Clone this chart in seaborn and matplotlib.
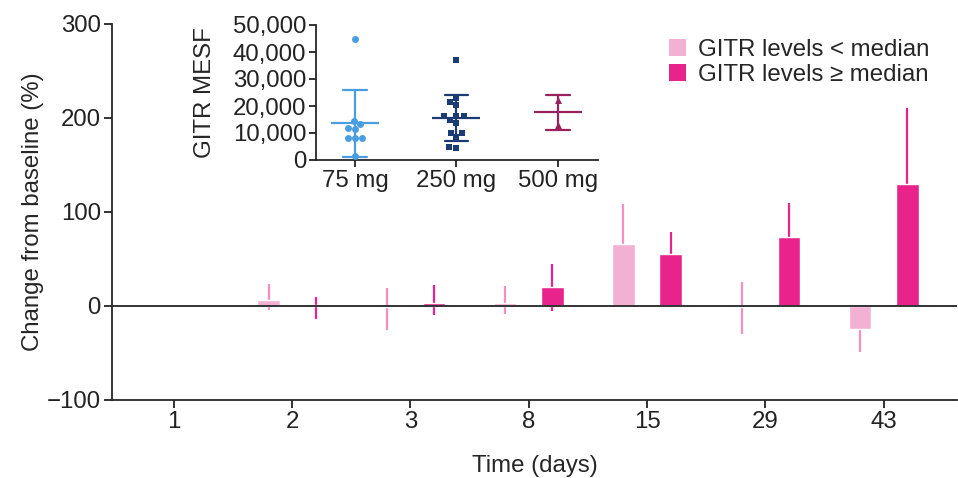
import numpy as np
import pandas as pd
import matplotlib
matplotlib.use("Agg")
import matplotlib.pyplot as plt
from matplotlib.patches import Patch
import seaborn as sns

# main chart: % change from baseline by day
days = ["1", "2", "3", "8", "15", "29", "43"]
low_mean = [np.nan, 6, -1, 3, 66, -1, -24.5]
low_lo = [np.nan, -4, -26, -8, 24, -30, -49]
low_hi = [np.nan, 23, 19, 21, 108, 26, 0]
high_mean = [np.nan, 1, 3, 20, 55, 73, 130]
high_lo = [np.nan, -14, -10, -5, 31, 36, 49]
high_hi = [np.nan, 10, 22, 45, 79, 110, 211]
groups = ["GITR levels < median", "GITR levels \u2265 median"]

# inset: GITR MESF per dose
doses = ["75 mg", "250 mg", "500 mg"]
mesf_75 = [45000, 13300, 14400, 11500, 11800, 8100, 8100, 8100, 1500]
mesf_250 = [37000, 23000, 21400, 20300, 16300, 16300, 16300, 13600, 14800,
            9900, 9900, 8400, 4300, 4900]
mesf_500 = [22200, 13000]

bar_colors = ["#f2b1d2", "#e8248c"]
err_colors = ["#f58fc0", "#e8248c"]
dose_colors = ["#4a9de0", "#1c3b73", "#98215e"]
dose_markers = ["o", "s", "^"]

FS = 17.3

sns.set_style("ticks")
plt.rcParams["font.family"] = ["Liberation Sans", "DejaVu Sans"]
plt.rcParams["axes.linewidth"] = 1.3

df = pd.DataFrame({
    "day": days * 2,
    "group": [groups[0]] * len(days) + [groups[1]] * len(days),
    "change": low_mean + high_mean,
}).dropna()

fig = plt.figure(figsize=(9.58, 4.78), dpi=100)
ax = fig.add_axes([112 / 958, 1 - 400 / 478, 1 - 112 / 958 - 0.001, 376 / 478])

sns.barplot(data=df, x="day", y="change", hue="group", order=days,
            hue_order=groups, palette=bar_colors, errorbar=None,
            gap=0.52, saturation=1, legend=False, ax=ax, zorder=2)

for k, (lo, hi) in enumerate([(low_lo, low_hi), (high_lo, high_hi)]):
    off = -0.2 if k == 0 else 0.2
    for i in range(len(days)):
        if np.isnan(lo[i]):
            continue
        ax.vlines(i + off, lo[i], hi[i], color=err_colors[k], lw=1.6, zorder=1)

ax.axhline(0, color="#333333", lw=1.4, zorder=3)
ax.set_ylim(-100, 300)
ax.set_xlim(-0.523, 6.62)
ax.set_yticks([-100, 0, 100, 200, 300])
ax.set_yticklabels(["\u2212100", "0", "100", "200", "300"])
ax.tick_params(labelsize=FS, length=6, width=1.3, colors="#222222", pad=2)
ax.set_xlabel("Time (days)", fontsize=FS, labelpad=16)
ax.set_ylabel("Change from baseline (%)", fontsize=FS, labelpad=2)
sns.despine(ax=ax)

handles = [Patch(facecolor=c, edgecolor="none") for c in bar_colors]
fig.legend(handles, groups, loc="upper left",
           bbox_to_anchor=(657 / 958, 1 - 27 / 478), frameon=False,
           fontsize=FS, handlelength=0.7, handleheight=0.7,
           handletextpad=0.5, labelspacing=0.12, borderpad=0)

# inset
ins = fig.add_axes([316 / 958, 1 - 160 / 478, 282 / 958, 135 / 478])
inset_df = pd.DataFrame({
    "dose": [doses[0]] * len(mesf_75) + [doses[1]] * len(mesf_250)
            + [doses[2]] * len(mesf_500),
    "mesf": mesf_75 + mesf_250 + mesf_500,
})
sns.pointplot(data=inset_df, x="dose", y="mesf", hue="dose", order=doses,
              hue_order=doses, palette=dose_colors, errorbar="sd",
              capsize=0.23, markers="_", markersize=34, markeredgewidth=1.6,
              linestyle="none", err_kws={"linewidth": 1.6}, legend=False,
              ax=ins)
for d, c, m in zip(doses, dose_colors, dose_markers):
    sns.swarmplot(data=inset_df[inset_df["dose"] == d], x="dose", y="mesf",
                  order=doses, color=c, marker=m, size=5, ax=ins, zorder=3)

ins.set_ylim(0, 50000)
ins.set_xlim(-0.384, 2.394)
ins.set_yticks([0, 10000, 20000, 30000, 40000, 50000])
ins.set_yticklabels(["0", "10,000", "20,000", "30,000", "40,000", "50,000"])
ins.tick_params(labelsize=FS, length=5, width=1.3, colors="#222222", pad=2)
ins.set_xlabel("")
ins.set_ylabel("GITR MESF", fontsize=FS, labelpad=12)
ins.patch.set_alpha(0)
sns.despine(ax=ins)

fig.savefig("out.png", dpi=100)
